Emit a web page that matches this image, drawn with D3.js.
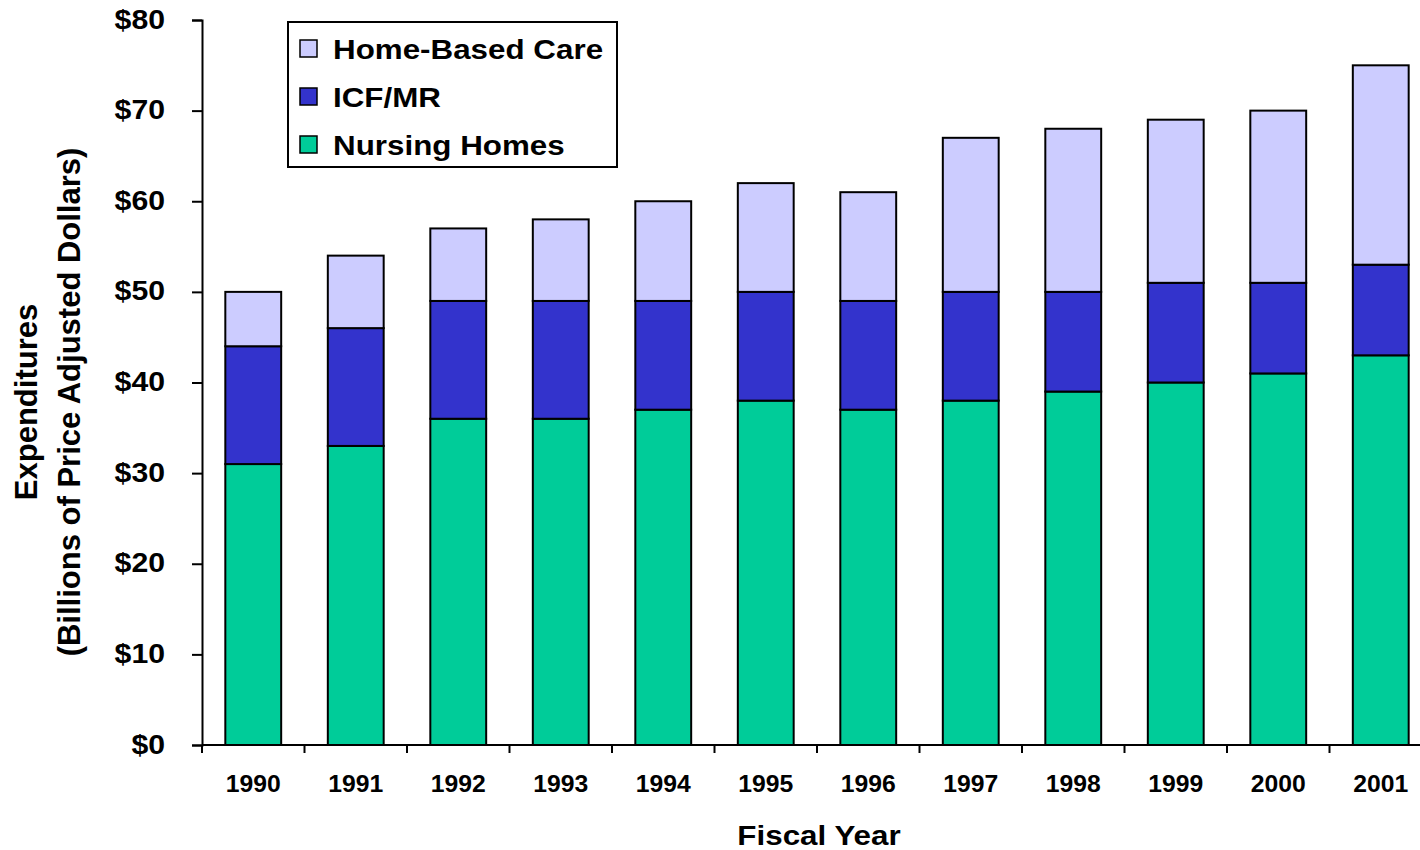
<!DOCTYPE html>
<html>
<head>
<meta charset="utf-8">
<script src="https://cdn.jsdelivr.net/npm/d3@7"></script>
<style>
  html, body { margin: 0; padding: 0; background: #fff; }
  svg { display: block; font-family: Arial, "Liberation Sans", sans-serif; }
</style>
</head>
<body>
<svg id="chart" width="1420" height="850"></svg>
<script>
// Fiscal years on the x axis
const years = ["1990","1991","1992","1993","1994","1995","1996","1997","1998","1999","2000","2001"];

// Expenditures, billions of price-adjusted dollars
const nursingHomes  = [31, 33, 36, 36, 37, 38, 37, 38, 39, 40, 41, 43];
const icfMr         = [13, 13, 13, 13, 12, 12, 12, 12, 11, 11, 10, 10];
const homeBasedCare = [ 6,  8,  8,  9, 11, 12, 12, 17, 18, 18, 19, 22];

const seriesNames  = ["Nursing Homes", "ICF/MR", "Home-Based Care"];
const seriesColors = ["#00CC99", "#3333CC", "#CCCCFF"];
const yTicks = [0, 10, 20, 30, 40, 50, 60, 70, 80];

const svg = d3.select("#chart");
const margin = { left: 202, top: 20 };
const width = 1420;

// Labels are set in a slightly widened bold face
const WIDE = 1.12;

const table = years.map((y, i) => ({
  year: y,
  "Nursing Homes": nursingHomes[i],
  "ICF/MR": icfMr[i],
  "Home-Based Care": homeBasedCare[i]
}));

const stacked = d3.stack().keys(seriesNames)(table);

const step = 102.5;
const x = d3.scaleBand()
  .domain(years)
  .range([margin.left, margin.left + step * years.length])
  .paddingInner(0.455)
  .paddingOuter(0.2275);

const y = d3.scaleLinear()
  .domain([0, 80])
  .range([745, 20]);

const color = d3.scaleOrdinal().domain(seriesNames).range(seriesColors);

// Stacked bars
svg.append("g")
  .selectAll("g")
  .data(stacked)
  .join("g")
  .attr("fill", d => color(d.key))
  .selectAll("rect")
  .data(d => d)
  .join("rect")
  .attr("x", d => x(d.data.year))
  .attr("width", x.bandwidth())
  .attr("y", d => y(d[1]))
  .attr("height", d => y(d[0]) - y(d[1]))
  .attr("stroke", "#000")
  .attr("stroke-width", 2);

// Y axis
const labelOffset = 37;
const yAxis = svg.append("g")
  .attr("transform", `translate(${margin.left},0)`)
  .call(d3.axisLeft(y).tickValues(yTicks).tickFormat(d => "$" + d).tickSize(10));
yAxis.select(".domain").attr("stroke", "#000").attr("stroke-width", 2);
yAxis.selectAll(".tick line").attr("stroke", "#000").attr("stroke-width", 2);
yAxis.selectAll(".tick text")
  .attr("font-size", 27)
  .attr("font-weight", "bold")
  .attr("fill", "#000")
  .attr("font-family", "Arial, 'Liberation Sans', sans-serif")
  .attr("x", -labelOffset / WIDE)
  .attr("dy", "0.3em")
  .attr("transform", `scale(${WIDE},1)`);

// X axis baseline and category boundary ticks
const xAxisG = svg.append("g");
xAxisG.append("line")
  .attr("x1", margin.left).attr("x2", width)
  .attr("y1", y(0)).attr("y2", y(0))
  .attr("stroke", "#000").attr("stroke-width", 2);
const boundaries = d3.range(years.length).map(i => x.range()[0] + i * x.step());
xAxisG.selectAll("line.bt")
  .data(boundaries)
  .join("line")
  .attr("class", "bt")
  .attr("x1", d => d).attr("x2", d => d)
  .attr("y1", y(0)).attr("y2", y(0) + 8)
  .attr("stroke", "#000").attr("stroke-width", 2);
xAxisG.selectAll("text")
  .data(years)
  .join("text")
  .attr("transform", d => `translate(${x(d) + x.bandwidth() / 2},792) scale(1.03,1)`)
  .attr("text-anchor", "middle")
  .attr("font-size", 24)
  .attr("font-weight", "bold")
  .text(d => d);

// Axis titles
svg.append("text")
  .attr("transform", `translate(819,845) scale(${WIDE},1)`)
  .attr("text-anchor", "middle")
  .attr("font-size", 28)
  .attr("font-weight", "bold")
  .text("Fiscal Year");

const yTitle = svg.append("text")
  .attr("transform", "translate(0,402) rotate(-90)")
  .attr("text-anchor", "middle")
  .attr("font-size", 31)
  .attr("font-weight", "bold");
yTitle.append("tspan").attr("x", 0).attr("y", 37).text("Expenditures");
yTitle.append("tspan").attr("x", 0).attr("y", 80).text("(Billions of Price Adjusted Dollars)");

// Legend
const legend = svg.append("g").attr("transform", "translate(288,22)");
legend.append("rect")
  .attr("width", 329).attr("height", 145)
  .attr("fill", "#fff").attr("stroke", "#000").attr("stroke-width", 2);
const legendOrder = ["Home-Based Care", "ICF/MR", "Nursing Homes"];
const items = legend.selectAll("g.item")
  .data(legendOrder)
  .join("g")
  .attr("class", "item")
  .attr("transform", (d, i) => `translate(12,${18 + i * 48})`);
items.append("rect")
  .attr("width", 17).attr("height", 17)
  .attr("fill", d => color(d))
  .attr("stroke", "#000").attr("stroke-width", 1.5);
items.append("text")
  .attr("transform", `translate(33,19) scale(${WIDE},1)`)
  .attr("font-size", 28)
  .attr("font-weight", "bold")
  .text(d => d);
</script>
</body>
</html>
